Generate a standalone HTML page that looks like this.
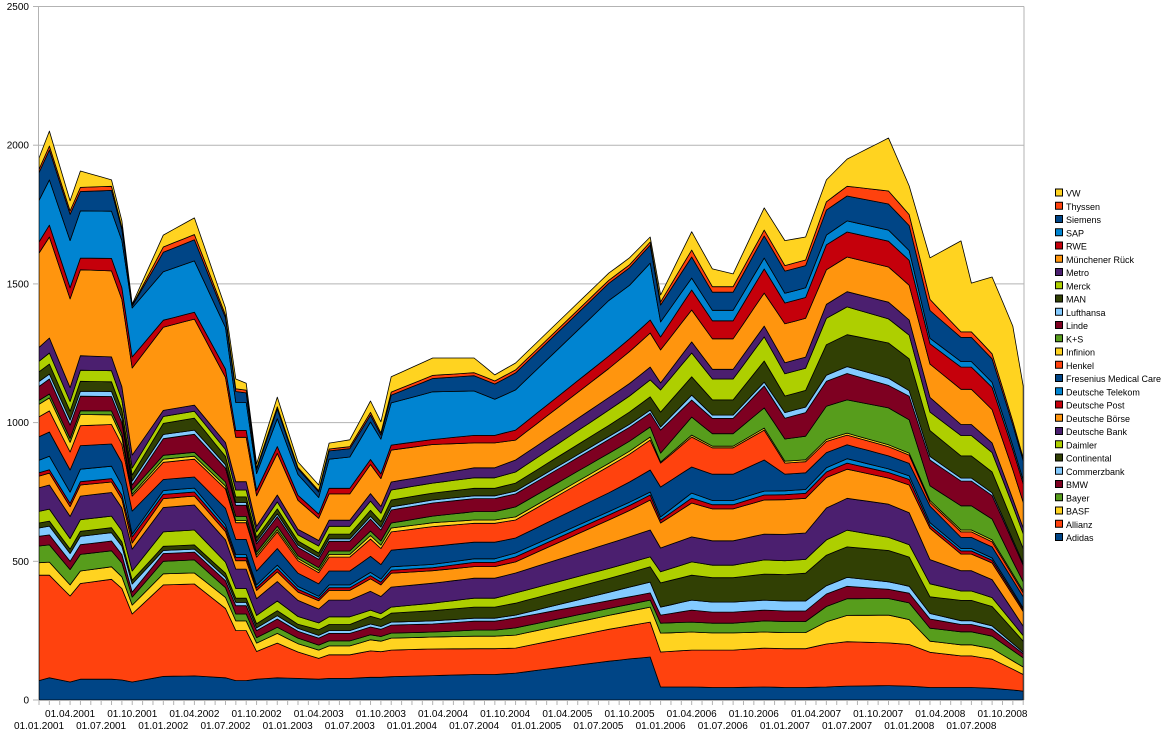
<!DOCTYPE html>
<html><head><meta charset="utf-8"><style>
html,body{margin:0;padding:0;background:#fff;}
svg{display:block;font-family:"Liberation Sans",Arial,sans-serif;}
</style></head><body>
<svg id="chart" width="1166" height="735" viewBox="0 0 1166 735" xmlns="http://www.w3.org/2000/svg">
<g id="grid"></g>
<g id="areas"></g>
<g id="axes"></g>
<g id="legend"></g>
</svg>
<script>
const keyMonths = [0,1,3,4,7,8,9,12,15,18,19,20,21,23,25,27,28,30,32,33,34,38,42,44,46,55,57,59,60,63,65,67,70,72,74,76,78,82,84,86,89,90,92,94,95];
const seriesNames = ["Adidas","Allianz","BASF","Bayer","BMW","Commerzbank","Continental","Daimler","Deutsche Bank","Deutsche Börse","Deutsche Post","Deutsche Telekom","Fresenius Medical Care","Henkel","Infinion","K+S","Linde","Lufthansa","MAN","Merck","Metro","Münchener Rück","RWE","SAP","Siemens","Thyssen","VW"];
const seriesColors = ["#004586","#ff420e","#ffd320","#579d1c","#7e0021","#83caff","#314004","#aecf00","#4b1f6f","#ff950e","#c5000b","#0084d1","#004586","#ff420e","#ffd320","#579d1c","#7e0021","#83caff","#314004","#aecf00","#4b1f6f","#ff950e","#c5000b","#0084d1","#004586","#ff420e","#ffd320"];
const adidas = [70,80,65,75,75,72,65,85,87,80,70,70,75,80,78,75,78,78,82,82,84,88,92,92,97,140,148,155,47,47,45,45,47,45,45,47,50,52,50,45,45,45,42,36,32];
const allianz = [380,370,310,345,360,330,245,330,331,250,180,180,100,125,95,75,85,85,95,92,96,96,93,93,90,115,120,126,126,133,135,135,140,140,140,155,160,154,150,127,114,114,105,75,60];
const basf = [45,47,40,45,45,42,32,40,40,40,35,35,30,35,30,30,32,32,40,38,43,43,45,45,47,50,52,54,68,65,62,62,58,58,58,80,95,100,90,40,40,40,38,30,27];
const bayer = [60,62,55,60,58,50,29,45,47,35,25,25,20,22,20,18,18,18,18,17,18,18,22,22,26,25,25,25,36,36,35,35,40,40,40,55,60,60,60,47,47,47,45,37,33];
const bmw = [35,36,30,35,35,30,18,28,28,25,30,30,25,30,25,25,27,27,28,26,29,29,32,32,36,28,27,26,29,43,40,40,39,38,38,45,45,33,35,33,26,26,25,18,15];
const commerzbank = [30,32,28,30,30,30,29,11,11,12,12,12,10,12,10,10,10,10,11,10,11,11,11,11,10,30,35,39,29,36,36,36,36,36,36,30,32,27,25,20,14,14,12,8,5];
const continental = [18,18,16,18,18,16,14,15,15,15,15,15,15,18,15,20,22,22,28,26,32,37,40,40,43,50,52,55,87,90,88,88,94,95,100,110,110,113,105,60,73,73,70,50,40];
const daimler = [42,43,38,42,42,40,33,52,54,40,35,35,30,35,28,25,28,28,22,20,22,27,32,32,37,36,36,36,40,48,45,45,51,50,50,55,60,47,45,47,34,34,32,24,20];
const deutscheBank = [85,87,80,85,85,82,79,88,90,80,70,70,60,70,58,50,60,60,68,62,72,72,72,72,72,90,93,97,86,90,88,88,93,95,95,115,115,120,115,87,73,73,65,45,34];
const deutscheBoerse = [42,43,35,40,38,32,22,32,32,30,30,30,30,35,30,30,35,35,45,42,50,45,42,42,40,85,95,108,90,122,115,115,123,125,125,110,105,94,100,113,60,60,60,55,53];
const deutschePost = [12,12,12,12,12,15,22,15,15,12,12,12,10,12,10,8,10,10,11,10,11,11,15,15,18,18,18,18,11,18,15,15,18,18,18,20,22,20,20,10,11,11,10,8,7];
const deutscheTelekom = [45,49,40,45,45,35,10,14,14,12,10,10,10,12,10,8,10,10,12,11,12,12,13,13,14,12,12,11,11,18,15,15,14,14,14,15,16,13,13,10,9,9,8,7,6];
const fresenius = [85,87,80,85,80,82,83,40,40,60,55,55,50,60,48,45,50,50,58,52,60,65,60,60,54,68,73,79,108,94,95,95,112,60,60,55,50,47,45,60,40,40,40,40,40];
const henkel = [72,76,65,72,70,65,54,62,64,70,60,60,50,60,45,40,50,50,62,58,66,71,68,68,65,95,100,108,86,108,95,95,108,40,40,40,35,33,30,13,20,20,18,15,14];
const infineon = [45,47,35,40,35,25,7,11,11,10,8,8,8,8,8,8,10,10,13,12,14,14,12,12,11,11,11,11,4,7,6,6,7,7,7,7,7,7,7,7,7,7,7,7,7];
const kplusS = [14,14,14,14,14,14,15,14,14,15,15,15,10,12,10,10,12,12,16,15,18,24,30,30,36,36,36,36,32,65,45,45,73,80,85,120,120,133,120,53,87,87,75,45,33];
const linde = [50,54,48,52,52,40,18,60,65,50,40,40,30,35,30,30,35,35,43,40,47,47,47,47,47,50,50,50,83,61,55,55,79,75,85,90,95,81,85,93,89,89,85,70,60];
const lufthansa = [18,18,18,18,18,16,14,15,15,12,10,10,8,10,8,8,9,9,10,10,11,11,10,10,10,11,11,11,11,18,12,12,14,20,20,22,25,26,20,13,11,11,10,8,7];
const man = [35,36,32,36,35,30,22,40,43,30,20,20,15,18,15,15,17,17,22,20,25,25,27,27,29,40,44,48,54,66,55,55,76,60,60,110,115,127,115,93,80,80,75,62,53];
const merck = [38,40,35,40,40,35,25,25,25,25,25,25,20,25,22,25,28,28,33,30,36,36,38,38,40,55,58,61,80,86,75,75,87,80,80,95,100,87,85,67,73,73,70,60,54];
const metro = [50,54,50,52,50,48,47,22,22,25,30,30,20,25,20,20,22,22,27,25,29,29,36,36,43,45,45,46,25,40,35,35,39,40,40,50,55,60,55,53,40,40,35,25,20];
const muenchenerRueck = [340,364,320,310,310,315,314,300,310,235,160,160,110,150,105,80,95,95,105,100,115,110,90,90,72,105,115,123,119,115,110,110,119,140,140,125,125,127,125,120,127,127,120,105,93];
const rwe = [40,43,40,42,45,42,40,25,25,30,25,25,20,25,18,15,20,20,18,17,18,18,27,27,36,45,46,47,47,72,65,65,87,75,75,90,90,93,90,73,80,80,80,72,67];
const sap = [150,163,170,170,170,170,176,175,185,150,100,100,60,100,75,60,105,113,135,125,152,172,160,130,145,200,193,205,54,43,38,38,39,35,35,35,40,40,35,20,20,20,18,15,13];
const siemens = [100,108,95,70,75,40,7,70,76,35,40,35,15,35,20,20,30,30,25,15,28,48,55,55,61,62,63,65,61,76,65,65,80,80,80,90,90,94,90,100,87,87,85,75,70];
const thyssen = [12,14,12,15,15,8,2,19,19,10,10,10,5,8,5,5,7,7,10,8,11,11,11,11,11,11,11,11,11,25,20,20,21,20,20,30,35,47,40,40,20,20,18,13,10];
const vw = [41,54,37,59,23,23,5,43,60,25,35,25,15,35,20,20,21,25,41,40,55,63,53,22,25,26,25,18,25,66,64,46,80,90,83,79,98,191,103,150,328,176,277,343,259];
const yTicks = [0,500,1000,1500,2000,2500];
const xLabels = ["01.01.2001","01.04.2001","01.07.2001","01.10.2001","01.01.2002","01.04.2002","01.07.2002","01.10.2002","01.01.2003","01.04.2003","01.07.2003","01.10.2003","01.01.2004","01.04.2004","01.07.2004","01.10.2004","01.01.2005","01.04.2005","01.07.2005","01.10.2005","01.01.2006","01.04.2006","01.07.2006","01.10.2006","01.01.2007","01.04.2007","01.07.2007","01.10.2007","01.01.2008","01.04.2008","01.07.2008","01.10.2008"];
const monthCount = 96;

const seriesData = [adidas,allianz,basf,bayer,bmw,commerzbank,continental,daimler,deutscheBank,deutscheBoerse,deutschePost,deutscheTelekom,fresenius,henkel,infineon,kplusS,linde,lufthansa,man,merck,metro,muenchenerRueck,rwe,sap,siemens,thyssen,vw];

const NS = "http://www.w3.org/2000/svg";
function xScale(m){ return 39 + m * 10.36; }
function yScale(v){ return 700 - v * (693.5/2500); }
function mk(tag, attrs, parent){ const e = document.createElementNS(NS, tag); for (const k in attrs) e.setAttribute(k, attrs[k]); parent.appendChild(e); return e; }

const grid = document.getElementById('grid');
const axes = document.getElementById('axes');
const areas = document.getElementById('areas');
const legend = document.getElementById('legend');

yTicks.forEach(t => {
  const y = yScale(t);
  if (t > 0) {
    const gl = mk('line', {x1:38.5, x2:1024, y1:y, y2:y, stroke:'#b3b3b3', 'stroke-width':1}, grid);
    
    
  }
  const tk = mk('line', {x1:33, x2:38.5, y1:y, y2:y, stroke:'#b3b3b3', 'stroke-width':1}, axes);
  
  
  const tx = mk('text', {x:29, y:y+3.5, 'text-anchor':'end', 'font-size':'10', fill:'#000'}, axes);
  tx.textContent = t;
  
  
});
const yAxis = mk('line', {x1:38.5, x2:38.5, y1:yScale(2500), y2:700, stroke:'#b3b3b3', 'stroke-width':1}, axes);


const rAxis = mk('line', {x1:1024, x2:1024, y1:yScale(2500), y2:700, stroke:'#b3b3b3', 'stroke-width':1}, grid);



function valAt(arr, m){
  for (let i = 0; i < keyMonths.length - 1; i++) {
    const a = keyMonths[i], b = keyMonths[i+1];
    if (m >= a && m <= b) { const t = (m - a) / (b - a); return (arr[i] || 0) * (1 - t) + (arr[i+1] || 0) * t; }
  }
  return arr[arr.length - 1] || 0;
}
const cum = new Array(monthCount).fill(0);
seriesData.forEach((arr, si) => {
  const lower = cum.slice();
  for (let m = 0; m < monthCount; m++) cum[m] += valAt(arr, m);
  let pts = [];
  for (let m = 0; m < monthCount; m++) pts.push(xScale(m).toFixed(1) + ',' + yScale(cum[m]).toFixed(1));
  for (let m = monthCount - 1; m >= 0; m--) pts.push(xScale(m).toFixed(1) + ',' + yScale(lower[m]).toFixed(1));
  const p = mk('polygon', {points: pts.join(' '), fill: seriesColors[si], stroke:'#000', 'stroke-width':0.8, 'stroke-linejoin':'round'}, areas);
  
  
});

for (let m = 0; m < monthCount; m++) {
  const t = mk('line', {x1:xScale(m), x2:xScale(m), y1:700, y2:705, stroke:'#b3b3b3', 'stroke-width':1}, axes);
  
  
}
const xAxis = mk('line', {x1:38.5, x2:1024, y1:700.5, y2:700.5, stroke:'#b3b3b3', 'stroke-width':1}, axes);


xLabels.forEach((lab, i) => {
  const m = i * 3;
  const tx = mk('text', {x:xScale(m), y:(i % 2 === 0 ? 729 : 717), 'text-anchor':'middle', 'font-size':'10', fill:'#000'}, axes);
  tx.textContent = lab;
  
  
});

for (let i = seriesNames.length - 1; i >= 0; i--) {
  const row = seriesNames.length - 1 - i;
  const y = 189 + row * 13.25;
  const g = mk('g', {}, legend);
  
  
  mk('rect', {x:1055.5, y:y, width:7, height:7, fill:seriesColors[i], stroke:'#000', 'stroke-width':1}, g);
  const tx = mk('text', {x:1066, y:y+7.5, 'font-size':'9', fill:'#000'}, g);
  tx.textContent = seriesNames[i];
}
</script>
</body></html>
